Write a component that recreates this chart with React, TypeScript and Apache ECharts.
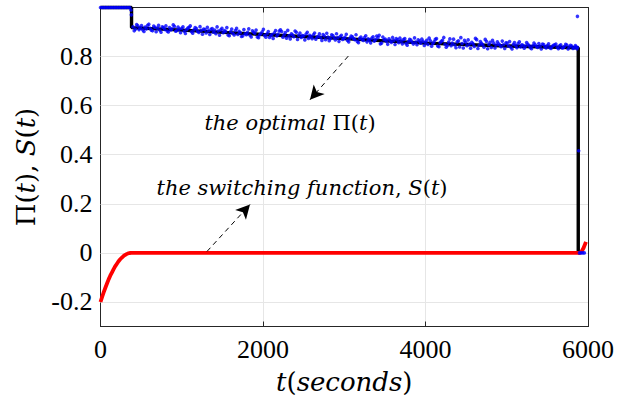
import React, { useEffect, useRef } from "react";
import * as echarts from "echarts";

// optimal Pi(t) (black line)
const piLine: [number, number][] = [
  [0, 1], [382, 1], [382, 0.918], [1000, 0.908], [2000, 0.89], [3000, 0.873],
  [4000, 0.855], [5000, 0.843], [5880, 0.836], [5880, 0], [5900, 0],
];

// switching function S(t) (red line)
const sCurve: [number, number][] = [
  [0, -0.2], [20, -0.179], [40, -0.16], [60, -0.142], [80, -0.125], [100, -0.108],
  [120, -0.093], [140, -0.08], [160, -0.067], [180, -0.055], [200, -0.045],
  [220, -0.035], [240, -0.027], [260, -0.02], [280, -0.014], [300, -0.009],
  [320, -0.005], [340, -0.002], [360, -0.0005], [380, 0], [5900, 0],
  [5920, 0.005], [5945, 0.02], [5975, 0.045],
];

// sampled Pi (blue dots)
const piSamples: [number, number][] = [
  [0, 1], [20, 1], [40, 1], [60, 1], [80, 1], [100, 1], [120, 1], [140, 1], [160, 1], [180, 1],
  [200, 1], [220, 1], [240, 1], [260, 1], [280, 1], [300, 1], [320, 1], [340, 1], [360, 1], [375, 0.99], [380, 0.97],
  [400, 0.921], [430, 0.912], [460, 0.925], [490, 0.917], [520, 0.909], [550, 0.92], [580, 0.927], [610, 0.915], [640, 0.905], [670, 0.919],
  [700, 0.916], [730, 0.908], [760, 0.921], [790, 0.911], [820, 0.904], [850, 0.918], [880, 0.913], [910, 0.923], [940, 0.906], [970, 0.912],
  [1000, 0.915], [1030, 0.903], [1060, 0.91], [1090, 0.919], [1120, 0.901], [1150, 0.909], [1180, 0.914], [1210, 0.898], [1240, 0.907], [1270, 0.912],
  [1300, 0.896], [1330, 0.905], [1360, 0.911], [1390, 0.899], [1420, 0.893], [1450, 0.904], [1480, 0.909], [1510, 0.897], [1540, 0.902], [1570, 0.888],
  [1600, 0.901], [1630, 0.894], [1660, 0.906], [1690, 0.89], [1720, 0.898], [1750, 0.884], [1780, 0.893], [1810, 0.899], [1840, 0.887], [1870, 0.905],
  [1900, 0.895], [1930, 0.88], [1960, 0.889], [1990, 0.901], [2020, 0.886], [2050, 0.893], [2080, 0.878], [2110, 0.89], [2140, 0.897], [2170, 0.884],
  [2200, 0.904], [2230, 0.902], [2260, 0.889], [2290, 0.875], [2320, 0.885], [2350, 0.893], [2380, 0.881], [2410, 0.899], [2440, 0.887], [2470, 0.878],
  [2500, 0.884], [2530, 0.892], [2560, 0.874], [2590, 0.881], [2620, 0.889], [2650, 0.871], [2680, 0.883], [2710, 0.878], [2740, 0.89], [2770, 0.869],
  [2800, 0.88], [2830, 0.873], [2860, 0.886], [2890, 0.868], [2920, 0.877], [2950, 0.882], [2980, 0.87], [3010, 0.879], [3040, 0.866], [3070, 0.875],
  [3100, 0.881], [3130, 0.869], [3160, 0.862], [3190, 0.874], [3220, 0.87], [3250, 0.878], [3280, 0.86], [3310, 0.867], [3340, 0.875], [3370, 0.863],
  [3400, 0.884], [3430, 0.887], [3460, 0.855], [3490, 0.869], [3520, 0.862], [3550, 0.872], [3580, 0.858], [3610, 0.866], [3640, 0.873], [3670, 0.857],
  [3700, 0.864], [3730, 0.869], [3760, 0.853], [3790, 0.861], [3820, 0.867], [3850, 0.851], [3880, 0.859], [3910, 0.868], [3940, 0.855], [3970, 0.862],
  [4000, 0.858], [4030, 0.849], [4060, 0.864], [4090, 0.853], [4120, 0.87], [4150, 0.843], [4180, 0.857], [4210, 0.866], [4240, 0.85], [4270, 0.845],
  [4300, 0.872], [4330, 0.855], [4360, 0.847], [4390, 0.86], [4420, 0.839], [4450, 0.853], [4480, 0.866], [4510, 0.844], [4540, 0.851], [4570, 0.858],
  [4600, 0.841], [4630, 0.869], [4660, 0.846], [4690, 0.854], [4720, 0.838], [4750, 0.862], [4780, 0.849], [4810, 0.837], [4840, 0.855], [4870, 0.847],
  [4900, 0.852], [4930, 0.84], [4960, 0.848], [4990, 0.856], [5020, 0.843], [5050, 0.838], [5080, 0.849], [5110, 0.845], [5140, 0.853], [5170, 0.839],
  [5200, 0.846], [5230, 0.842], [5260, 0.85], [5290, 0.836], [5320, 0.844], [5350, 0.848], [5380, 0.837], [5410, 0.843], [5440, 0.851], [5470, 0.84],
  [5500, 0.845], [5530, 0.836], [5560, 0.842], [5590, 0.848], [5620, 0.838], [5650, 0.844], [5680, 0.835], [5710, 0.841], [5740, 0.847], [5770, 0.839],
  [5800, 0.843], [5830, 0.836], [5850, 0.84], [5870, 0.838],
  [415, 0.905], [445, 0.93], [475, 0.91], [505, 0.926], [535, 0.902], [565, 0.913], [595, 0.932], [625, 0.908], [655, 0.924], [685, 0.901],
  [715, 0.927], [745, 0.899], [775, 0.918], [805, 0.925], [835, 0.9], [865, 0.909], [895, 0.929], [925, 0.903], [955, 0.92], [985, 0.897],
  [1015, 0.921], [1045, 0.894], [1075, 0.916], [1105, 0.925], [1135, 0.895], [1165, 0.918], [1195, 0.903], [1225, 0.922], [1255, 0.891], [1285, 0.91],
  [1315, 0.919], [1345, 0.89], [1375, 0.914], [1405, 0.908], [1435, 0.921], [1465, 0.887], [1495, 0.915], [1525, 0.906], [1555, 0.918], [1585, 0.885],
  [1615, 0.912], [1645, 0.888], [1675, 0.915], [1705, 0.903], [1735, 0.882], [1765, 0.91], [1795, 0.889], [1825, 0.913], [1855, 0.88], [1885, 0.899],
  [1915, 0.908], [1945, 0.877], [1975, 0.894], [2005, 0.911], [2035, 0.879], [2065, 0.902], [2095, 0.885], [2125, 0.874], [2155, 0.906], [2185, 0.891],
  [2215, 0.909], [2245, 0.879], [2275, 0.898], [2305, 0.907], [2335, 0.872], [2365, 0.888], [2395, 0.904], [2425, 0.87], [2455, 0.896], [2485, 0.886],
  [2515, 0.868], [2545, 0.899], [2575, 0.887], [2605, 0.873], [2635, 0.896], [2665, 0.879], [2695, 0.893], [2725, 0.866], [2755, 0.884], [2785, 0.895],
  [2815, 0.865], [2845, 0.889], [2875, 0.878], [2905, 0.893], [2935, 0.862], [2965, 0.887], [2995, 0.874], [3025, 0.891], [3055, 0.86], [3085, 0.884],
  [3115, 0.873], [3145, 0.889], [3175, 0.857], [3205, 0.88], [3235, 0.866], [3265, 0.885], [3295, 0.872], [3325, 0.856], [3355, 0.881], [3385, 0.869],
  [3415, 0.877], [3445, 0.852], [3475, 0.88], [3505, 0.871], [3535, 0.85], [3565, 0.865], [3595, 0.878], [3625, 0.849], [3655, 0.868], [3685, 0.875],
  [3715, 0.852], [3745, 0.873], [3775, 0.846], [3805, 0.87], [3835, 0.859], [3865, 0.876], [3895, 0.848], [3925, 0.863], [3955, 0.871], [3985, 0.845],
  [4015, 0.866], [4045, 0.875], [4075, 0.842], [4105, 0.86], [4135, 0.873], [4165, 0.84], [4195, 0.862], [4225, 0.878], [4255, 0.838], [4285, 0.859],
  [4315, 0.844], [4345, 0.871], [4375, 0.836], [4405, 0.864], [4435, 0.877], [4465, 0.835], [4495, 0.858], [4525, 0.868], [4555, 0.834], [4585, 0.852],
  [4615, 0.874], [4645, 0.833], [4675, 0.861], [4705, 0.848], [4735, 0.87], [4765, 0.832], [4795, 0.858], [4825, 0.866], [4855, 0.835], [4885, 0.86],
  [4915, 0.847], [4945, 0.863], [4975, 0.833], [5005, 0.855], [5035, 0.861], [5065, 0.831], [5095, 0.857], [5125, 0.836], [5155, 0.86], [5185, 0.848],
  [5215, 0.834], [5245, 0.857], [5275, 0.845], [5305, 0.832], [5335, 0.855], [5365, 0.841], [5395, 0.853], [5425, 0.831], [5455, 0.849], [5485, 0.835],
  [5515, 0.852], [5545, 0.833], [5575, 0.846], [5605, 0.851], [5635, 0.832], [5665, 0.848], [5695, 0.836], [5725, 0.85], [5755, 0.831], [5785, 0.846],
  [5815, 0.833], [5845, 0.845], [5865, 0.832],
  [5870, 0.964], [5885, 0.416], [5895, 0], [5915, 0], [5935, 0], [5955, 0],
];

const xTicks = [0, 2000, 4000, 6000];
const yTicks = [-0.2, 0, 0.2, 0.4, 0.6, 0.8];

const arrows: [number, number][][] = [
  [[3050, 0.802], [2578, 0.624]],
  [[1311, 0.006], [1840, 0.197]],
];

const FRAME = "#262626";
const GRIDC = "#e6e6e6";

export default function App() {
  const ref = useRef<HTMLDivElement>(null);
  useEffect(() => {
    if (!ref.current) return;
    const chart = echarts.init(ref.current, undefined, { renderer: "svg" });
    const serif = "Liberation Serif";
    const ital = "DejaVu Serif";
    const rich = (size: number) => ({
      i: { fontFamily: ital, fontStyle: "italic" as const, fontSize: size, color: "#000" },
      u: { fontFamily: ital, fontStyle: "normal" as const, fontSize: size, color: "#000" },
    });
    const tickFmt = (v: number) => (Math.abs(v) < 1e-9 ? "0" : v.toFixed(1));
    chart.setOption({
      animation: false,
      grid: { left: 100.5, right: 38, top: 7.5, bottom: 73.5, containLabel: false },
      xAxis: [
        {
          type: "value", min: 0, max: 6000, interval: 2000, position: "bottom",
          axisLine: { show: true, onZero: false, lineStyle: { color: FRAME, width: 1 } },
          axisTick: { show: true, inside: true, length: 5, lineStyle: { color: FRAME } },
          axisLabel: { color: "#000", fontFamily: serif, fontSize: 26, margin: 10, formatter: (v: number) => (xTicks.includes(v) ? String(v) : "") },
          splitLine: { show: true, lineStyle: { color: GRIDC, width: 1 } },
          name: "{i|t}{u|(}{i|seconds}{u|)}",
          nameLocation: "middle", nameGap: 42,
          nameTextStyle: { rich: rich(26) },
        },
        {
          type: "value", min: 0, max: 6000, interval: 2000, position: "top",
          axisLine: { show: true, onZero: false, lineStyle: { color: FRAME, width: 1 } },
          axisTick: { show: true, inside: true, length: 5, lineStyle: { color: FRAME } },
          axisLabel: { show: false }, splitLine: { show: false },
        },
      ],
      yAxis: [
        {
          type: "value", min: -0.3, max: 1.0, position: "left",
          axisLine: { show: true, onZero: false, lineStyle: { color: FRAME, width: 1 } },
          axisTick: { show: true, inside: true, length: 5, lineStyle: { color: FRAME }, customValues: yTicks },
          axisLabel: { color: "#000", fontFamily: serif, fontSize: 26, margin: 8, customValues: yTicks, formatter: tickFmt },
          splitLine: { show: false },
          name: "{u|Π(}{i|t}{u|), }{i|S}{u|(}{i|t}{u|)}",
          nameLocation: "middle", nameGap: 62, nameRotate: 90,
          nameTextStyle: { rich: rich(26) },
        },
        {
          type: "value", min: -0.3, max: 1.0, position: "right",
          axisLine: { show: true, onZero: false, lineStyle: { color: FRAME, width: 1 } },
          axisTick: { show: true, inside: true, length: 5, lineStyle: { color: FRAME }, customValues: yTicks },
          axisLabel: { show: false }, splitLine: { show: false },
        },
      ],
      series: [
        {
          type: "line", data: [], z: 1, silent: true,
          markLine: {
            silent: true, symbol: ["none", "none"], animation: false, z: 1,
            label: { show: false },
            lineStyle: { color: GRIDC, width: 1, type: "solid" },
            data: yTicks.map((v) => ({ yAxis: v })),
          },
        },
        {
          type: "line", data: piLine, showSymbol: false, z: 3, clip: false,
          lineStyle: { color: "#000", width: 3.4 },
        },
        {
          type: "line", data: sCurve, showSymbol: false, z: 4, clip: false, smooth: false,
          lineStyle: { color: "#ff0000", width: 3.8 },
        },
        {
          type: "scatter", data: piSamples, z: 5, symbolSize: 3.6, clip: false,
          itemStyle: { color: "#0000ff" },
        },
        {
          type: "line", data: [], z: 6, silent: true,
          markLine: {
            silent: true, animation: false, z: 8,
            symbol: ["none", "arrow"], symbolSize: [11, 14],
            label: { show: false },
            lineStyle: { color: "#000", width: 1, type: [5, 4] },
            itemStyle: { color: "#000" },
            data: arrows.map((a) => [{ coord: a[0] }, { coord: a[1] }]),
          },
        },
      ],
      graphic: [
        {
          type: "text", x: 290, y: 123, z: 10,
          style: {
            text: "{i|the optimal }{u|Π(}{i|t}{u|)}",
            align: "center", verticalAlign: "middle",
            rich: rich(21),
          },
        },
        {
          type: "text", x: 302, y: 188, z: 10,
          style: {
            text: "{i|the switching function}{u|, }{i|S}{u|(}{i|t}{u|)}",
            align: "center", verticalAlign: "middle",
            rich: rich(21),
          },
        },
      ],
    });
    return () => chart.dispose();
  }, []);
  return <div ref={ref} style={{ position: "absolute", left: 0, top: 0, width: 626, height: 400 }} />;
}
